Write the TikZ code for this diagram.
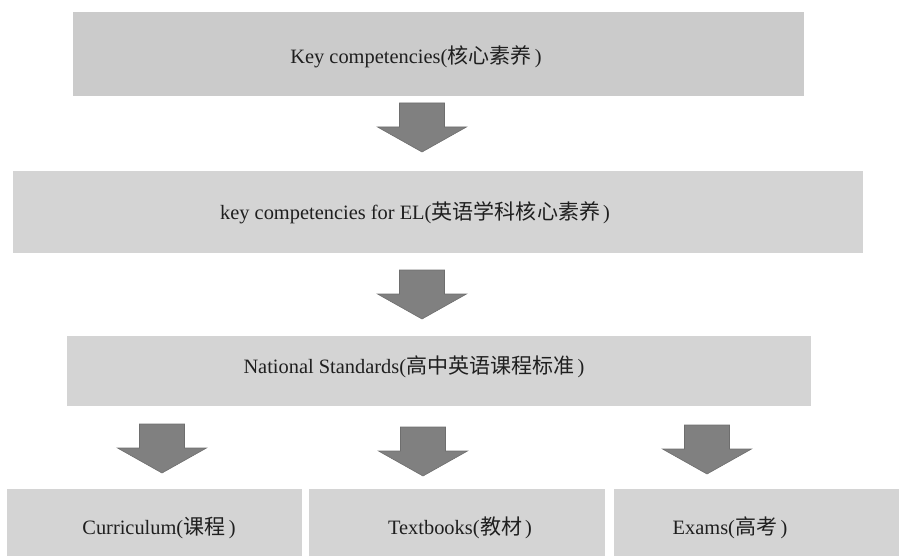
\documentclass[tikz,border=0pt]{standalone}
\usepackage{fontspec}
\setmainfont{Liberation Serif}
\newfontfamily\cjk{Noto Sans CJK SC}[Scale=1.03]
\definecolor{boxA}{HTML}{CBCBCB}
\definecolor{boxB}{HTML}{D4D4D4}
\definecolor{arrowfill}{HTML}{808080}
\definecolor{arrowline}{HTML}{6E6E6E}
\newcommand{\zh}[1]{\kern0.5pt{\cjk #1}\kern3pt}
\begin{document}
\begin{tikzpicture}[x=1pt,y=-1pt,
  box/.style={fill=#1, draw=none, inner sep=0pt, anchor=north west},
  txt/.style={inner sep=0pt, text=black!88, font=\fontsize{20.4}{23}\selectfont},
  blockarrow/.pic={\filldraw[fill=arrowfill, draw=arrowline, line width=0.6pt, line join=miter]
     (-22.5,0) -- (22.5,0) -- (22.5,24) -- (44.5,24) -- (0,49) -- (-44.5,24) -- (-22.5,24) -- cycle;}
]
\useasboundingbox (0,0) rectangle (899,556);
% boxes
\node[box=boxA, minimum width=731pt, minimum height=84pt] (kc) at (73,12) {};
\node[box=boxB, minimum width=850pt, minimum height=82pt] (kel) at (13,171) {};
\node[box=boxB, minimum width=744pt, minimum height=70pt] (ns) at (67,336) {};
\node[box=boxB, minimum width=295pt, minimum height=67pt] (cur) at (7,489) {};
\node[box=boxB, minimum width=296pt, minimum height=67pt] (tb) at (309,489) {};
\node[box=boxB, minimum width=285pt, minimum height=67pt] (ex) at (614,489) {};
% texts
\node[txt] (tkc) at (416,57) {Key competencies(\zh{核心素养})};
\node[txt] (tkel) at (415,213) {key competencies for EL(\zh{英语学科核心素养})};
\node[txt] (tns) at (414,367) {National Standards(\zh{高中英语课程标准})};
\node[txt] (tcur) at (159,528) {Curriculum(\zh{课程})};
\node[txt] (ttb) at (460,528) {Textbooks(\zh{教材})};
\node[txt] (tex) at (730,528) {Exams(\zh{高考})};
% arrows
\coordinate (a1) at (422,103);
\coordinate (a2) at (422,270);
\coordinate (a3) at (162,424);
\coordinate (a4) at (423,427);
\coordinate (a5) at (707,425);
\foreach \c in {a1,a2,a3,a4,a5} {\pic at (\c) {blockarrow};}
\end{tikzpicture}
\end{document}
